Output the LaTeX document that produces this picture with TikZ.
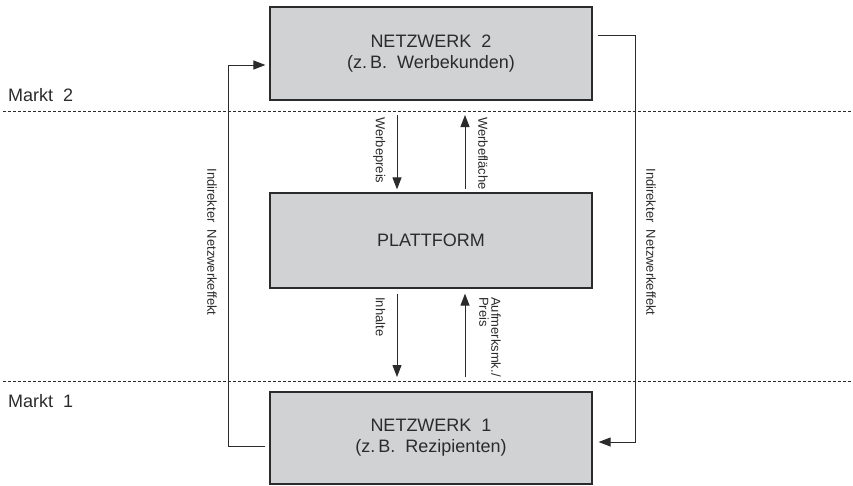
\documentclass[tikz,border=0pt]{standalone}
\usepackage{fontspec}
\setmainfont{Liberation Sans}[WordSpace=2.0]
\usetikzlibrary{arrows.meta,calc}
\definecolor{boxfill}{HTML}{D1D2D4}
\definecolor{ink}{HTML}{2B2B2B}
\begin{document}
\begin{tikzpicture}[x=1pt,y=-1pt,
  box/.style={draw=ink, line width=1.2pt, fill=boxfill, minimum width=322pt,
    inner sep=0pt, align=center, text=ink, font=\fontsize{18}{21}\selectfont},
  arr/.style={draw=ink, line width=1pt, -{Triangle[length=12pt,width=9pt]}},
  lab/.style={text=ink, inner sep=0pt, rotate=-90, font=\fontsize{13}{12}\selectfont},
  mlab/.style={text=ink, inner sep=0pt, anchor=base west, font=\fontsize{18}{21}\selectfont},
  marketline/.style={draw=ink, line width=0.7pt, dash pattern=on 3pt off 2pt}]
\useasboundingbox (0,0) rectangle (853,485);

% market boundaries
\coordinate (d2a) at (3,111);
\coordinate (d2b) at (853,111);
\coordinate (d1a) at (3,381);
\coordinate (d1b) at (853,381);
\draw[marketline] (d2a) -- (d2b);
\draw[marketline] (d1a) -- (d1b);
\node[mlab] (m2) at (8,101) {Markt 2};
\node[mlab] (m1) at (8,407) {Markt 1};

% boxes
\node[box, minimum height=93pt] (n2) at (431,53.5) {NETZWERK 2\\(z.\,B. Werbekunden)};
\node[box, minimum height=95pt] (plat) at (431,240.5) {PLATTFORM};
\node[box, minimum height=92pt] (n1) at (431,438) {NETZWERK 1\\(z.\,B. Rezipienten)};

% arrows between network 2 and platform
\coordinate (wp) at (397,115);
\coordinate (wf) at (465,115);
\draw[arr, shorten >=3pt] (wp) -- (wp |- plat.north);
\draw[arr, shorten <=3pt] (wf |- plat.north) -- (wf);
\node[lab, anchor=north west] (lwp) at (385.5,117) {Werbepreis};
\node[lab, anchor=south west] (lwf) at (478,117) {Werbefläche};

% arrows between platform and network 1
\coordinate (ih) at (397,377);
\coordinate (af) at (465,377);
\draw[arr, shorten <=5pt] (ih |- plat.south) -- (ih);
\draw[arr, shorten >=5pt] (af) -- (af |- plat.south);
\node[lab, anchor=north west] (lih) at (385.5,297) {Inhalte};
\node[lab, anchor=south west, align=left] (laf) at (479,297) {Aufmerksmk./\\Preis};

% indirect network effects
\draw[arr] ($(n1.west)+(-4,8)$) -- (228,446) -- (228,65) -- ($(n2.west)+(-4,11.5)$);
\node[lab] (lleft) at (212,242) {Indirekter Netzwerkeffekt};
\draw[arr] ($(n2.east)+(5,-18.5)$) -- (635,35) -- (635,442) -- ($(n1.east)+(6,4)$);
\node[lab] (lright) at (651,242) {Indirekter Netzwerkeffekt};
\end{tikzpicture}
\end{document}
